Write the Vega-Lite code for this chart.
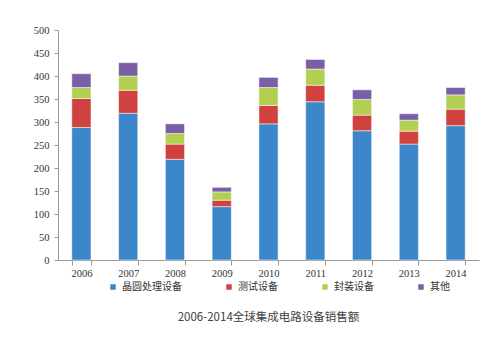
{
  "$schema": "https://vega.github.io/schema/vega-lite/v6.json",
  "width": 421,
  "height": 230,
  "autosize": "none",
  "padding": {"left": 58, "top": 30, "right": 16, "bottom": 93},
  "background": "white",
  "config": {"view": {"stroke": null}},
  "title": {
    "text": "2006-2014全球集成电路设备销售额",
    "orient": "bottom",
    "anchor": "middle",
    "font": "Noto Sans CJK SC",
    "fontSize": 11.5,
    "fontWeight": "normal",
    "color": "#404040",
    "offset": 20
  },
  "data": {
    "values": [
      {"year": "2006", "type": "晶圆处理设备", "value": 288},
      {"year": "2006", "type": "测试设备", "value": 63},
      {"year": "2006", "type": "封装设备", "value": 24},
      {"year": "2006", "type": "其他", "value": 30},
      {"year": "2007", "type": "晶圆处理设备", "value": 319},
      {"year": "2007", "type": "测试设备", "value": 50},
      {"year": "2007", "type": "封装设备", "value": 31},
      {"year": "2007", "type": "其他", "value": 29},
      {"year": "2008", "type": "晶圆处理设备", "value": 219},
      {"year": "2008", "type": "测试设备", "value": 33},
      {"year": "2008", "type": "封装设备", "value": 23},
      {"year": "2008", "type": "其他", "value": 21},
      {"year": "2009", "type": "晶圆处理设备", "value": 116},
      {"year": "2009", "type": "测试设备", "value": 14},
      {"year": "2009", "type": "封装设备", "value": 18},
      {"year": "2009", "type": "其他", "value": 10},
      {"year": "2010", "type": "晶圆处理设备", "value": 296},
      {"year": "2010", "type": "测试设备", "value": 40},
      {"year": "2010", "type": "封装设备", "value": 39},
      {"year": "2010", "type": "其他", "value": 22},
      {"year": "2011", "type": "晶圆处理设备", "value": 344},
      {"year": "2011", "type": "测试设备", "value": 36},
      {"year": "2011", "type": "封装设备", "value": 35},
      {"year": "2011", "type": "其他", "value": 21},
      {"year": "2012", "type": "晶圆处理设备", "value": 281},
      {"year": "2012", "type": "测试设备", "value": 34},
      {"year": "2012", "type": "封装设备", "value": 34},
      {"year": "2012", "type": "其他", "value": 21},
      {"year": "2013", "type": "晶圆处理设备", "value": 252},
      {"year": "2013", "type": "测试设备", "value": 28},
      {"year": "2013", "type": "封装设备", "value": 24},
      {"year": "2013", "type": "其他", "value": 14},
      {"year": "2014", "type": "晶圆处理设备", "value": 292},
      {"year": "2014", "type": "测试设备", "value": 36},
      {"year": "2014", "type": "封装设备", "value": 31},
      {"year": "2014", "type": "其他", "value": 16}
    ]
  },
  "transform": [
    {"calculate": "indexof(['晶圆处理设备', '测试设备', '封装设备', '其他'], datum.type)", "as": "stackOrder"}
  ],
  "mark": {"type": "bar", "stroke": "white", "strokeWidth": 0.5},
  "encoding": {
    "x": {
      "field": "year",
      "type": "nominal",
      "scale": {"paddingInner": 0.59, "paddingOuter": 0.295},
      "axis": {
        "title": null,
        "labelAngle": 0,
        "labelFont": "Liberation Serif",
        "labelFontSize": 10.5,
        "labelColor": "#333333",
        "labelPadding": 3,
        "tickBand": "extent",
        "tickSize": 5,
        "tickColor": "#999999",
        "domainColor": "#999999",
        "ticks": true
      }
    },
    "y": {
      "field": "value",
      "type": "quantitative",
      "aggregate": "sum",
      "stack": "zero",
      "scale": {"domain": [0, 500]},
      "axis": {
        "title": null,
        "values": [0, 50, 100, 150, 200, 250, 300, 350, 400, 450, 500],
        "grid": false,
        "labelFont": "Liberation Serif",
        "labelFontSize": 10.5,
        "labelColor": "#333333",
        "labelPadding": 5,
        "tickSize": 4,
        "tickColor": "#999999",
        "domainColor": "#999999"
      }
    },
    "color": {
      "field": "type",
      "type": "nominal",
      "sort": ["晶圆处理设备", "测试设备", "封装设备", "其他"],
      "scale": {
        "domain": ["晶圆处理设备", "测试设备", "封装设备", "其他"],
        "range": ["#3b87c9", "#d0413f", "#b3cf52", "#7a5fa6"]
      },
      "legend": {
        "title": null,
        "orient": "none",
        "direction": "horizontal",
        "legendX": 50,
        "legendY": 252,
        "symbolType": "square",
        "symbolSize": 30,
        "symbolStrokeWidth": 0,
        "labelFont": "Noto Sans CJK SC",
        "labelFontSize": 10,
        "labelColor": "#333333",
        "labelOffset": 4,
        "columnPadding": 42
      }
    },
    "order": {"field": "stackOrder", "type": "quantitative", "sort": "ascending"}
  }
}
